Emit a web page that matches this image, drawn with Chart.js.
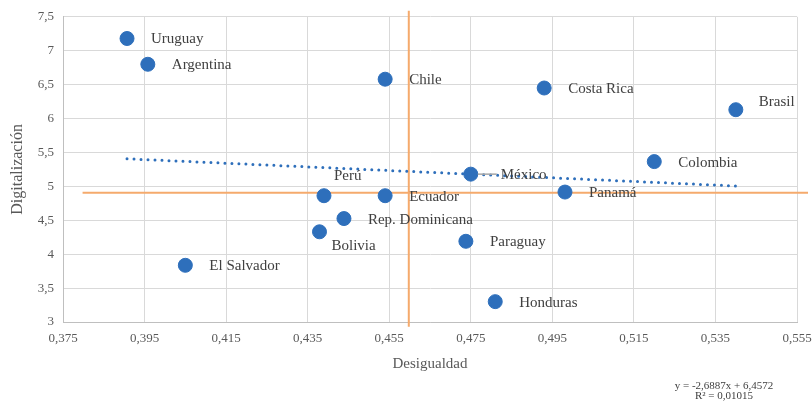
<!DOCTYPE html>
<html>
<head>
<meta charset="utf-8">
<script src="https://cdn.jsdelivr.net/npm/chart.js"></script>
<style>
  body { margin: 0; background: #fff; }
  #wrap { width: 812px; height: 406px; }
</style>
</head>
<body>
<div id="wrap"><canvas id="myChart" width="812" height="406"></canvas></div>
<script>
// data
var countries = ['Uruguay', 'Argentina', 'Chile', 'Costa Rica', 'Brasil', 'Colombia', 'México', 'Panamá',
                 'Perú', 'Ecuador', 'Rep. Dominicana', 'Bolivia', 'Paraguay', 'El Salvador', 'Honduras'];
var desigualdad = [0.3907, 0.3958, 0.4540, 0.4930, 0.5400, 0.5200, 0.4750, 0.4981,
                   0.4390, 0.4540, 0.4439, 0.4379, 0.4738, 0.4050, 0.4810];
var digitalizacion = [7.18, 6.80, 6.58, 6.45, 6.13, 5.365, 5.18, 4.916,
                      4.862, 4.862, 4.525, 4.33, 4.19, 3.836, 3.30];

var xTicks = [0.375, 0.395, 0.415, 0.435, 0.455, 0.475, 0.495, 0.515, 0.535, 0.555];
var yTicks = [3, 3.5, 4, 4.5, 5, 5.5, 6, 6.5, 7, 7.5];

// trend line shown in the chart: y = -2,6887x + 6,4572
var trendSlope = -2.6887;
var trendIntercept = 6.4572;

// orange reference lines
var refX = 0.4598;
var refXSpan = [2.931, 7.588];
var refY = 4.906;
var refYSpan = [0.3798, 0.5577];

var serif = '"Liberation Serif", "Times New Roman", serif';
var blue = '#2e6fbb';
var orange = '#f5aa6c';

function comma(v, digits) {
  return v.toFixed(digits).replace('.', ',');
}

var xMin = Math.min.apply(null, desigualdad);
var xMax = Math.max.apply(null, desigualdad);

// label placement around each point
var labelPlace = {
  'Brasil': { dx: 23, dy: -8 },
  'Perú': { dx: 10, dy: -20 },
  'Bolivia': { dx: 12, dy: 14 },
  'México': { dx: 30, dy: 1, leader: true }
};

var pointLabels = {
  id: 'pointLabels',
  afterDatasetsDraw: function(chart) {
    var ctx = chart.ctx;
    var meta = chart.getDatasetMeta(0);
    ctx.save();
    ctx.font = '15px ' + serif;
    ctx.fillStyle = '#404040';
    ctx.textBaseline = 'middle';
    ctx.textAlign = 'left';
    meta.data.forEach(function(el, i) {
      var name = countries[i];
      var p = labelPlace[name] || { dx: 24, dy: 1 };
      if (p.leader) {
        ctx.strokeStyle = '#a6a6a6';
        ctx.lineWidth = 1.5;
        ctx.beginPath();
        ctx.moveTo(el.x + 7, el.y);
        ctx.lineTo(el.x + p.dx - 4, el.y);
        ctx.stroke();
      }
      ctx.fillText(name, el.x + p.dx, el.y + p.dy);
    });
    ctx.restore();
  },
  afterDraw: function(chart) {
    var ctx = chart.ctx;
    ctx.save();
    ctx.font = '11px ' + serif;
    ctx.fillStyle = '#404040';
    ctx.textAlign = 'center';
    ctx.textBaseline = 'middle';
    var cx = chart.chartArea.right - 73;
    var cy = chart.chartArea.bottom + 64;
    ctx.fillText('y = ' + comma(trendSlope, 4) + 'x + ' + comma(trendIntercept, 4), cx, cy);
    ctx.fillText('R² = 0,01015', cx, cy + 10);
    ctx.restore();
  }
};

var chart = new Chart(document.getElementById('myChart'), {
  type: 'scatter',
  data: {
    datasets: [{
      label: 'Países',
      data: desigualdad.map(function(x, i) { return { x: x, y: digitalizacion[i] }; }),
      backgroundColor: blue,
      borderColor: blue,
      pointRadius: 7,
      pointHoverRadius: 7,
      order: 0
    }, {
      label: 'Tendencia',
      type: 'line',
      data: [
        { x: xMin, y: trendSlope * xMin + trendIntercept },
        { x: xMax, y: trendSlope * xMax + trendIntercept }
      ],
      borderColor: blue,
      borderWidth: 3,
      borderDash: [0, 7],
      borderCapStyle: 'round',
      pointRadius: 0,
      fill: false,
      order: 1
    }, {
      label: 'ref x',
      type: 'line',
      data: [{ x: refX, y: refXSpan[0] }, { x: refX, y: refXSpan[1] }],
      borderColor: orange,
      borderWidth: 2,
      pointRadius: 0,
      clip: false,
      order: 2
    }, {
      label: 'ref y',
      type: 'line',
      data: [{ x: refYSpan[0], y: refY }, { x: refYSpan[1], y: refY }],
      borderColor: orange,
      borderWidth: 2,
      pointRadius: 0,
      clip: false,
      order: 2
    }]
  },
  options: {
    responsive: false,
    animation: false,
    devicePixelRatio: 1,
    layout: { padding: { top: 15, right: 0, left: 0, bottom: 26 } },
    plugins: {
      legend: { display: false },
      tooltip: { enabled: false }
    },
    scales: {
      x: {
        type: 'linear',
        min: xTicks[0],
        max: xTicks[xTicks.length - 1],
        afterBuildTicks: function(s) { s.ticks = xTicks.map(function(v) { return { value: v }; }); },
        afterFit: function(s) { s.height = 58; s.paddingRight = 15; },
        grid: { color: '#d9d9d9', lineWidth: 1, drawTicks: false },
        border: { color: '#bfbfbf', width: 1 },
        ticks: {
          padding: 9,
          color: '#595959',
          font: { family: serif, size: 13 },
          maxRotation: 0,
          callback: function(v) { return comma(v, 3); }
        },
        title: {
          display: true,
          text: 'Desigualdad',
          color: '#595959',
          font: { family: serif, size: 15 },
          padding: { top: 0, bottom: 7 }
        }
      },
      y: {
        type: 'linear',
        min: yTicks[0],
        max: yTicks[yTicks.length - 1],
        afterBuildTicks: function(s) { s.ticks = yTicks.map(function(v) { return { value: v }; }); },
        afterFit: function(s) { s.width = 63; },
        grid: { color: '#d9d9d9', lineWidth: 1, drawTicks: false },
        border: { color: '#bfbfbf', width: 1 },
        ticks: {
          padding: 9,
          color: '#595959',
          font: { family: serif, size: 13 },
          callback: function(v) { return String(v).replace('.', ','); }
        },
        title: {
          display: true,
          text: 'Digitalización',
          color: '#595959',
          font: { family: serif, size: 16 },
          padding: { top: 8, bottom: 0 }
        }
      }
    }
  },
  plugins: [pointLabels]
});
</script>
</body>
</html>
